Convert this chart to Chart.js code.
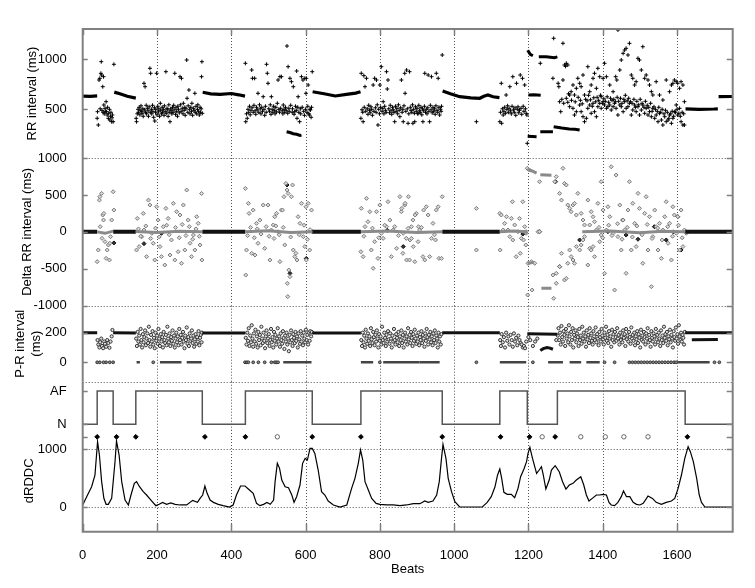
<!DOCTYPE html>
<html>
<head>
<meta charset="utf-8">
<script src="https://cdn.jsdelivr.net/npm/chart.js@4.4.1/dist/chart.umd.min.js"></script>
<style>
  html, body { margin: 0; padding: 0; background: #fff; }
  #wrap { position: relative; width: 755px; height: 588px; }
  #wrap canvas { position: absolute; left: 0; top: 0; }
</style>
</head>
<body>
<div id="wrap">
  <canvas id="cRR" width="755" height="588"></canvas>
  <canvas id="cDelta" width="755" height="588"></canvas>
  <canvas id="cPR" width="755" height="588"></canvas>
  <canvas id="cAF" width="755" height="588"></canvas>
  <canvas id="cDRDDC" width="755" height="588"></canvas>
</div>
<script>
// ===== DATA =====
const xTickVals = [0, 200, 400, 600, 800, 1000, 1200, 1400, 1600];

// --- RR interval (ms) ---
// dense runs of regular beats (drawn as thick strips)
const rrRhythm = [
  [[0, 632], [20, 630], [39, 634]],
  [[85, 672], [100, 655], [120, 630], [143, 612]],
  [[323, 670], [345, 655], [370, 650], [400, 658], [420, 645], [437, 632]],
  [[619, 676], [650, 655], [680, 633], [710, 650], [735, 662], [748, 676]],
  [[969, 683], [990, 655], [1015, 626], [1045, 615], [1069, 610], [1080, 630], [1091, 643], [1105, 625], [1122, 617]],
  [[1623, 505], [1660, 500], [1700, 503], [1710, 505]],
  [[1712, 626], [1748, 628]]
];
const rrRuns = [
  [[549, 276], [558, 268], [567, 256], [576, 250], [585, 238], [589, 242]],
  [[1198, 1090], [1205, 1050], [1212, 1036]],
  [[1228, 1026], [1248, 1026], [1270, 1016], [1278, 1024]],
  [[1198, 230], [1222, 226]],
  [[1232, 276], [1266, 276]],
  [[1268, 326], [1290, 312], [1310, 304], [1325, 300], [1338, 293]],
  [[1200, 643], [1215, 645], [1233, 640]]
];
const rrAF1 = [[39,410],[40,476],[42,343],[44,793],[46,810],[47,505],[49,860],[50,976],[51,843],[52,490],[54,726],[55,470],[56,826],[57,543],[58,455],[60,510],[61,480],[63,576],[64,476],[66,443],[67,520],[69,410],[70,460],[72,500],[73,393],[75,430],[76,470],[78,376],[79,415],[80,443],[82,376],[84,950]];
const rrAF2 = [[144,410],[145,376],[147,455],[149,500],[150,470],[152,520],[154,445],[155,490],[157,535],[159,480],[160,460],[162,505],[163,430],[165,760],[166,495],[168,726],[169,470],[171,540],[172,455],[174,510],[176,485],[177,430],[179,525],[181,910],[182,470],[183,860],[185,500],[186,455],[188,540],[189,480],[191,420],[193,515],[194,383],[196,470],[197,500],[199,860],[200,445],[202,530],[204,475],[205,505],[207,430],[209,560],[210,490],[212,455],[214,520],[215,470],[217,500],[219,440],[220,535],[222,480],[224,876],[225,460],[227,510],[229,495],[230,430],[232,545],[233,470],[235,376],[237,505],[238,485],[240,455],[242,520],[243,470],[245,540],[246,495],[248,860],[250,450],[251,515],[253,480],[255,430],[256,530],[258,500],[260,465],[262,826],[263,545],[265,480],[266,810],[268,510],[270,455],[271,560],[273,490],[275,520],[276,440],[278,505],[280,993],[281,610],[283,470],[284,535],[286,693],[288,500],[289,455],[291,520],[293,480],[294,560],[296,440],[298,510],[300,490],[302,660],[303,470],[305,530],[307,455],[309,500],[310,545],[312,480],[314,443],[316,520],[317,470],[319,505],[320,826],[321,976],[322,460]];
const rrAF3 = [[438,960],[439,376],[441,455],[443,410],[445,500],[447,470],[449,530],[451,445],[453,490],[455,893],[456,515],[457,810],[459,470],[461,540],[463,810],[464,485],[466,450],[468,520],[470,495],[472,660],[474,470],[476,545],[478,505],[480,455],[482,520],[484,480],[486,626],[488,500],[490,440],[492,530],[494,470],[495,950],[497,860],[499,760],[501,505],[503,480],[505,545],[507,450],[508,626],[510,500],[512,470],[514,530],[516,490],[518,455],[520,520],[522,475],[524,560],[526,793],[528,500],[530,470],[531,826],[533,510],[535,826],[537,485],[539,455],[540,543],[542,500],[544,470],[546,520],[548,490],[550,1133],[552,460],[553,926],[555,510],[556,480],[558,810],[560,540],[562,776],[564,470],[565,505],[567,726],[569,450],[571,476],[573,530],[575,490],[576,883],[577,410],[579,520],[580,626],[582,470],[584,376],[586,505],[587,455],[589,826],[591,520],[593,793],[595,480],[597,440],[598,810],[600,500],[601,660],[602,810],[604,470],[606,530],[607,743],[609,455],[610,443],[612,500],[613,493],[615,420],[616,520],[618,876]];
const rrAF4 = [[749,410],[750,860],[752,495],[754,470],[755,376],[757,836],[758,520],[760,726],[762,480],[764,810],[766,505],[768,450],[770,540],[772,490],[774,465],[776,525],[778,500],[780,440],[782,743],[784,480],[786,810],[788,515],[790,470],[791,793],[793,545],[795,343],[797,500],[799,455],[800,743],[802,520],[804,926],[806,480],[808,510],[809,576],[811,455],[813,530],[815,490],[817,470],[818,876],[820,703],[822,793],[824,505],[826,465],[828,540],[830,485],[832,450],[834,520],[836,495],[838,470],[840,376],[842,530],[844,480],[846,510],[848,455],[850,545],[852,490],[854,426],[856,515],[858,793],[860,470],[862,500],[863,376],[865,535],[867,860],[868,660],[870,480],[872,893],[874,505],[876,360],[878,455],[880,876],[882,520],[884,490],[886,470],[888,545],[889,360],[891,500],[893,460],[894,376],[896,525],[898,480],[900,510],[902,455],[903,460],[905,540],[907,490],[909,470],[911,520],[913,445],[915,505],[916,376],[918,485],[920,530],[921,860],[923,470],[925,500],[927,455],[929,515],[930,843],[932,480],[934,376],[936,540],[938,495],[939,826],[941,465],[943,520],[945,480],[947,505],[949,450],[951,535],[952,860],[954,490],[956,470],[957,810],[959,520],[961,443],[963,500],[965,480],[966,530],[968,1043]];
const rrAF5 = [[1060,376],[1123,376],[1125,470],[1127,760],[1128,360],[1130,505],[1132,443],[1134,480],[1136,520],[1138,460],[1140,643],[1142,500],[1144,535],[1146,470],[1148,510],[1150,726],[1152,485],[1154,455],[1156,530],[1158,826],[1160,495],[1162,470],[1164,515],[1166,440],[1168,760],[1170,500],[1172,525],[1174,465],[1176,490],[1178,843],[1180,510],[1182,450],[1184,810],[1186,530],[1188,480],[1190,743],[1192,505],[1194,460],[1196,443]];
const rrFlutter = [[1197,160],[1232,960],[1268,1210],[1293,1160],[1297,943],[1300,930],[1302,960],[1306,943]];
const rrAF6 = [[1266,810],[1280,760],[1282,726],[1284,576],[1287,476],[1293,793],[1311,643],[1315,676],[1320,743],[1324,643],[1329,710],[1333,810],[1338,760],[1342,726],[1347,843],[1351,643],[1360,926],[1365,676],[1369,743],[1374,810],[1378,860],[1383,710],[1387,910],[1392,826],[1396,626],[1401,810],[1405,960],[1410,826],[1419,743],[1428,676],[1435,826],[1438,793],[1441,1293],[1446,893],[1450,993],[1455,1060],[1459,1093],[1463,1110],[1468,1043],[1472,1160],[1477,843],[1481,810],[1486,743],[1490,776],[1495,1010],[1499,993],[1504,893],[1508,1126],[1513,810],[1517,843],[1522,793],[1526,743],[1531,676],[1535,643],[1544,776],[1553,643],[1562,593],[1571,793],[1580,676],[1585,743],[1589,760],[1593,793],[1598,776],[1602,760],[1607,710],[1611,776],[1616,743],[1620,576],
  [1302,610],[1306,570],[1311,526],[1320,510],[1324,443],[1329,476],[1338,543],[1342,476],[1347,426],[1351,376],[1356,410],[1360,510],[1365,543],[1369,460],[1374,560],[1378,476],[1383,426],[1387,526],[1392,560],[1396,510],[1401,576],[1405,543],[1410,510],[1414,526],[1419,543],[1423,493],[1428,526],[1432,560],[1436,510],[1441,443],[1446,543],[1450,526],[1455,476],[1459,576],[1463,510],[1468,526],[1472,560],[1477,443],[1481,493],[1486,543],[1490,476],[1495,526],[1499,443],[1504,493],[1508,543],[1513,460],[1517,510],[1522,443],[1526,476],[1531,426],[1535,510],[1540,410],[1544,443],[1549,376],[1553,460],[1558,393],[1562,343],[1567,426],[1571,376],[1576,393],[1580,443],[1585,360],[1589,410],[1593,476],[1598,543],[1602,443],[1607,510],[1611,376],[1616,343],[1620,343],
  [1290,600],[1295,560],[1308,655],[1316,590],[1326,575],[1334,620],[1340,590],[1345,555],[1354,600],[1358,585],[1362,640],[1367,595],[1372,530],[1376,615],[1381,575],[1385,620],[1389,590],[1394,640],[1399,560],[1403,605],[1407,580],[1412,625],[1416,570],[1421,610],[1425,590],[1430,600],[1434,575],[1439,620],[1443,580],[1448,610],[1452,560],[1457,600],[1461,640],[1466,585],[1470,610],[1475,575],[1479,560],[1484,600],[1488,520],[1492,580],[1497,545],[1501,600],[1506,560],[1511,520],[1515,580],[1520,540],[1524,520],[1529,560],[1533,480],[1538,525],[1542,500],[1547,480],[1551,520],[1556,470],[1560,500],[1565,455],[1569,490],[1574,470],[1578,410],[1583,455],[1587,480],[1591,430],[1596,470],[1600,500],[1605,460],[1609,430],[1614,470],[1618,455]];

// --- Delta RR interval (ms) ---
const dRhythm = [
  [[0, 0], [39, 0]], [[82, 0], [143, 0]], [[322, 0], [438, 0]],
  [[618, 0], [749, 0]], [[968, 0], [1123, 0]], [[1622, 0], [1750, 0]]
];
const dRuns = [
  [[39, 0], [60, -20], [82, 10]],
  [[143, 5], [200, -10], [260, 8], [322, 0]],
  [[438, 0], [500, 15], [560, -10], [618, 0]],
  [[749, 0], [820, 12], [900, -8], [968, 0]],
  [[1123, 0], [1160, 10], [1197, 0]],
  [[1345, 0], [1420, 10], [1500, -12], [1560, 8], [1622, 0]],
  [[1197, 845], [1210, 824], [1222, 795]],
  [[1232, 772], [1262, 765]],
  [[1235, -765], [1262, -765]],
  [[1198, -430], [1215, -410]]
];
const dAF1 = [[39,-404],[42,-246],[45,430],[46,476],[47,70],[51,520],[52,-88],[54,228],[56,160],[57,250],[60,-133],[63,-359],[66,-246],[69,-178],[72,-381],[73,-155],[75,-65],[78,160],[82,543],[84,295]];
const dAF2 = [[145,-246],[147,182],[152,-200],[159,-65],[163,250],[165,25],[172,-336],[177,430],[181,363],[186,-20],[190,-155],[194,-381],[199,340],[203,160],[208,-200],[212,-336],[217,70],[221,-449],[224,318],[230,182],[235,-314],[239,-110],[244,386],[248,-381],[253,273],[257,-269],[262,228],[266,-426],[271,363],[275,-246],[280,566],[284,160],[289,-155],[293,-336],[298,-43],[302,-246],[307,205],[311,115],[316,-178],[320,520],[321,-381],
  [150,40],[156,-60],[170,80],[183,-90],[196,50],[206,-70],[226,90],[233,-40],[250,60],[260,-80],[268,100],[278,-50],[287,70],[296,-100],[305,40],[314,-60]];
const dAF3 = [[438,588],[439,-585],[441,-246],[446,386],[448,250],[455,-291],[459,295],[464,-314],[468,115],[472,-155],[477,160],[486,363],[490,-223],[499,363],[504,-381],[508,25],[513,93],[517,205],[522,250],[526,2],[531,-404],[535,295],[538,295],[542,476],[544,-178],[547,656],[550,566],[553,520],[555,-517],[558,-607],[551,-697],[552,-877],[562,476],[565,634],[567,-246],[571,-336],[574,-291],[577,-381],[580,205],[585,115],[589,386],[594,-65],[598,-200],[601,340],[602,-381],[607,386],[611,-246],[616,295],[618,2],
  [444,-50],[452,60],[462,-80],[470,40],[480,-30],[494,70],[502,-60],[515,-90],[520,80],[529,-40],[540,60],[560,-70],[583,-40],[596,90],[605,-100],[612,30]];
const dAF4 = [[749,-269],[750,318],[755,-336],[760,70],[764,453],[768,137],[773,273],[777,-246],[782,-494],[786,-133],[791,273],[795,-359],[800,363],[804,-20],[809,-88],[818,70],[822,408],[827,160],[831,-336],[836,25],[840,70],[845,-223],[854,476],[858,273],[863,-20],[867,363],[872,-381],[876,47],[881,-110],[889,160],[894,-404],[898,250],[903,-133],[907,25],[859,318],[862,-291],[868,386],[871,-88],[877,476],[880,-381],[885,70],[890,-200],[895,228],[904,70],[916,-336],[918,295],[921,-381],[925,340],[930,228],[934,-336],[939,-88],[943,115],[950,-110],[952,295],[957,340],[959,-359],[966,-359],[968,476],
  [757,-60],[780,50],[797,-80],[813,90],[850,-50],[885,-90],[912,60],[947,-40]];
const dAF5 = [[1060,318],[1060,-246],[1123,250],[1124,-246],[1127,228],[1132,25],[1136,115],[1141,205],[1145,25],[1150,-65],[1154,182],[1157,408],[1158,-110],[1163,93],[1167,-336],[1172,2],[1176,182],[1178,-291],[1181,-88],[1185,408],[1187,-110],[1190,70],[1193,-178],[1194,-20]];
const dFlutter = [[1197,860],[1203,837],[1230,679],[1198,-855],[1210,-788],[1268,-900],[1275,-697],[1199,-426],[1208,-404],[1217,-426],[1226,2],[1230,2],[1194,2],
  [1271,679],[1275,747],[1284,521],[1289,430],[1293,860],[1297,656],[1302,634],[1306,363],[1311,318],[1315,273],[1320,363],[1324,386],[1329,228],[1333,521],[1342,250],[1347,160],[1351,93],[1360,430],[1365,93],[1369,273],[1374,205],[1378,137],
  [1266,-584],[1275,-562],[1284,-471],[1289,-291],[1297,-652],[1302,-630],[1306,-426],[1311,-246],[1315,-336],[1320,-381],[1324,-426],[1329,-200],[1338,-246],[1342,-178],[1347,-110],[1351,-65],[1360,-449],[1365,-223],[1369,-246],[1374,-200],[1378,-336]];
const dAF6 = [[1383,25],[1387,386],[1392,-133],[1396,679],[1396,-43],[1401,295],[1405,-562],[1410,25],[1414,340],[1419,205],[1423,882],[1428,-20],[1432,-788],[1436,769],[1441,-65],[1446,363],[1450,-246],[1455,160],[1459,25],[1463,-562],[1468,295],[1472,679],[1477,-246],[1481,386],[1486,115],[1490,-200],[1495,521],[1499,318],[1504,-20],[1508,-426],[1513,250],[1517,476],[1522,-246],[1526,205],[1531,-742],[1535,-65],[1540,295],[1544,70],[1549,-246],[1553,115],[1558,-359],[1562,25],[1567,205],[1571,408],[1576,-155],[1580,115],[1585,-381],[1589,340],[1593,228],[1598,-20],[1602,205],[1607,-246],[1611,295],[1616,-200],[1620,25],[1625,-20],
  [1390,60],[1400,-80],[1416,90],[1425,-50],[1440,110],[1452,-100],[1466,60],[1480,-70],[1492,80],[1506,-40],[1520,100],[1533,-90],[1548,50],[1560,-110],[1575,70],[1588,-60],[1604,90],[1614,-80]];
const dDark = [[84,-150],[165,-160],[212,-20],[550,634],[558,-562],[602,-360],[820,20],[863,-200],[1185,-30],[1230,2],[1273,679],[1284,-471],[1338,-110],[1414,2],[1454,160],[1463,-43],[1495,-100],[1539,70],[1571,-110],[1590,0],[1602,205],[1611,-246]];

// --- P-R interval (ms) ---
const prRhythm = [
  [[0, 200], [39, 200]], [[82, 200], [143, 198]], [[322, 198], [438, 197]],
  [[618, 198], [749, 198]], [[968, 200], [1123, 200]], [[1197, 192], [1278, 190]],
  [[1622, 200], [1750, 200]], [[1640, 152], [1710, 154]],
  [[1232, 80], [1240, 92], [1250, 100], [1258, 96], [1266, 88]]
];
const prAF1 = [[40,150],[42,120],[45,100],[47,135],[50,160],[52,110],[55,95],[58,140],[60,125],[63,105],[66,150],[69,130],[72,98],[75,140],[78,175],[80,218]];
const prAF2 = [[144,160],[146,110],[148,205],[150,140],[152,180],[154,120],[156,225],[158,150],[160,100],[162,190],[164,135],[166,170],[168,215],[170,115],[172,160],[174,195],[176,130],[178,240],[180,150],[182,105],[184,185],[186,140],[188,210],[190,120],[192,165],[194,95],[196,200],[198,145],[200,180],[202,125],[204,225],[206,160],[208,110],[210,190],[212,140],[214,170],[216,100],[218,205],[220,150],[222,130],[224,185],[226,115],[228,240],[230,160],[232,135],[234,195],[236,110],[238,170],[240,145],[242,215],[244,125],[246,180],[248,100],[250,160],[252,200],[254,135],[256,175],[258,115],[260,225],[262,150],[264,185],[266,120],[268,165],[270,205],[272,140],[274,95],[276,180],[278,150],[280,235],[282,125],[284,170],[286,110],[288,195],[290,145],[292,160],[294,215],[296,130],[298,180],[300,105],[302,155],[304,190],[306,125],[308,170],[310,140],[312,210],[314,115],[316,165],[318,185],[320,135],[321,200]];
const prAF3 = [[439,165],[441,120],[443,200],[445,145],[447,230],[449,110],[451,180],[453,135],[455,250],[457,160],[459,105],[461,195],[463,140],[465,220],[467,125],[469,175],[471,100],[473,205],[475,150],[477,185],[479,115],[481,240],[483,160],[485,130],[487,200],[489,145],[491,95],[493,175],[495,215],[497,130],[499,160],[501,190],[503,110],[505,150],[507,225],[509,135],[511,170],[513,100],[515,205],[517,145],[519,185],[521,120],[523,160],[525,230],[527,140],[529,175],[531,105],[533,195],[535,150],[537,125],[539,210],[541,165],[543,90],[545,180],[547,140],[549,200],[551,120],[553,160],[555,75],[557,185],[559,135],[561,215],[563,150],[565,110],[567,190],[569,165],[571,130],[573,205],[575,145],[577,175],[579,100],[581,195],[583,155],[585,125],[587,210],[589,140],[591,180],[593,115],[595,200],[597,160],[599,135],[601,220],[603,150],[605,185],[607,120],[609,200],[611,145],[613,210],[615,175],[617,205]];
const prAF4 = [[750,150],[752,110],[754,200],[756,135],[758,180],[760,100],[762,220],[764,160],[766,125],[768,195],[770,145],[772,175],[774,110],[776,230],[778,155],[780,130],[782,205],[784,170],[786,115],[788,185],[790,140],[792,215],[794,160],[796,100],[798,190],[800,145],[802,175],[804,120],[806,240],[808,150],[810,130],[812,200],[814,165],[816,110],[818,185],[820,140],[822,210],[824,155],[826,125],[828,195],[830,160],[832,100],[834,180],[836,140],[838,225],[840,150],[842,120],[844,190],[846,165],[848,135],[850,205],[852,110],[854,175],[856,150],[858,215],[860,130],[862,185],[864,100],[866,160],[868,200],[870,140],[872,175],[874,120],[876,230],[878,155],[880,185],[882,130],[884,205],[886,165],[888,110],[890,190],[892,145],[894,220],[896,160],[898,125],[900,180],[902,140],[904,200],[906,115],[908,170],[910,150],[912,210],[914,130],[916,185],[918,160],[920,105],[922,195],[924,145],[926,225],[928,170],[930,120],[932,185],[934,155],[936,205],[938,135],[940,175],[942,115],[944,195],[946,150],[948,215],[950,130],[952,180],[954,160],[956,100],[958,200],[960,140],[962,175],[964,120],[966,190]];
const prAF5 = [[1124,150],[1126,110],[1128,190],[1131,135],[1134,170],[1137,100],[1140,200],[1143,145],[1146,175],[1149,120],[1152,185],[1155,150],[1158,105],[1161,195],[1164,140],[1167,165],[1170,115],[1173,180],[1176,150],[1179,130],[1182,120],[1185,100],[1188,110],[1191,95],[1194,140],[1200,170],[1205,150],[1212,110],[1218,140],[1224,160],[1275,150]];
const prAF6 = [[1279,180],[1281,230],[1283,150],[1285,200],[1287,120],[1289,245],[1291,170],[1293,140],[1295,210],[1297,185],[1299,110],[1301,225],[1303,160],[1305,195],[1307,135],[1309,250],[1311,175],[1313,120],[1315,205],[1317,150],[1319,230],[1321,100],[1323,185],[1325,160],[1327,215],[1329,135],[1331,195],[1333,170],[1335,110],[1337,225],[1339,150],[1341,180],[1343,125],[1345,240],[1347,160],[1349,200],[1351,140],[1353,175],[1355,105],[1357,215],[1359,155],[1361,185],[1363,130],[1365,230],[1367,165],[1369,195],[1371,145],[1373,120],[1375,210],[1377,175],[1379,150],[1381,235],[1383,135],[1385,190],[1387,160],[1389,115],[1391,205],[1393,170],[1395,140],[1397,225],[1399,180],[1401,155],[1403,120],[1405,200],[1407,165],[1409,240],[1411,145],[1413,185],[1415,130],[1417,210],[1419,160],[1421,175],[1423,105],[1425,220],[1427,150],[1429,190],[1431,135],[1433,205],[1435,170],[1437,145],[1439,230],[1441,160],[1443,185],[1445,120],[1447,200],[1449,150],[1451,175],[1453,135],[1455,215],[1457,165],[1459,190],[1461,110],[1463,225],[1465,155],[1467,180],[1469,140],[1471,205],[1473,170],[1475,125],[1477,235],[1479,160],[1481,185],[1483,145],[1485,200],[1487,115],[1489,175],[1491,155],[1493,210],[1495,130],[1497,190],[1499,165],[1501,100],[1503,220],[1505,150],[1507,180],[1509,140],[1511,205],[1513,170],[1515,120],[1517,195],[1519,160],[1521,230],[1523,135],[1525,185],[1527,150],[1529,105],[1531,210],[1533,165],[1535,140],[1537,195],[1539,175],[1541,120],[1543,225],[1545,155],[1547,185],[1549,135],[1551,200],[1553,160],[1555,110],[1557,215],[1559,150],[1561,180],[1563,130],[1565,240],[1567,165],[1569,190],[1571,145],[1573,205],[1575,115],[1577,175],[1579,155],[1581,220],[1583,135],[1585,185],[1587,160],[1589,100],[1591,210],[1593,170],[1595,145],[1597,235],[1599,160],[1601,190],[1603,125],[1605,250],[1607,175],[1609,150],[1611,200],[1613,140],[1615,185],[1617,165],[1619,120],[1621,205]];
// beats whose P-R reads as 0 (no P wave found)
const prZeroRuns = [[145, 154], [208, 266], [280, 320], [540, 616], [749, 782], [809, 907], [907, 961], [1123, 1194], [1253, 1293], [1311, 1342], [1356, 1392], [1602, 1688]];
const prZeroBeats = [39, 46, 56, 63, 73, 82, 190, 437, 442, 446, 459, 473, 490, 508, 517, 521, 526, 800, 1060, 1212, 1405, 1432, 1472, 1480, 1488, 1496, 1504, 1512, 1520, 1528, 1536, 1544, 1552, 1560, 1568, 1576, 1584, 1592, 1598, 1701, 1714];

// --- rhythm annotation (0 = N, 1 = AF) ---
const afBeats  = [0, 39, 82, 143, 322, 438, 618, 749, 968, 1123, 1197, 1278, 1622, 1750];
const afStates = [0, 1,  0,  1,   0,   1,   0,   1,   0,   1,    0,    1,    0,    0];

// --- dRDDC ---
const drddc = [[0,35],[13,207],[24,350],[33,550],[40,1126],[45,897],[51,437],[57,150],[63,46],[69,46],[78,150],[87,780],[91,1138],[98,897],[105,437],[114,120],[123,35],[130,207],[139,408],[145,437],[153,350],[163,264],[172,207],[186,103],[197,23],[206,46],[215,80],[226,46],[237,69],[249,46],[262,35],[280,35],[296,115],[309,80],[316,150],[323,207],[329,362],[335,236],[343,120],[352,80],[365,46],[378,23],[395,0],[405,35],[414,207],[425,362],[437,362],[449,293],[459,236],[468,63],[477,23],[487,46],[496,80],[505,46],[514,120],[518,437],[524,753],[530,667],[536,465],[545,350],[554,333],[563,207],[569,80],[576,178],[585,379],[592,753],[599,840],[605,810],[612,1011],[618,1011],[625,925],[634,638],[643,264],[652,207],[661,103],[675,35],[693,0],[711,35],[724,322],[733,494],[742,753],[748,983],[754,810],[760,437],[769,293],[778,149],[790,63],[800,46],[818,35],[836,35],[854,23],[872,35],[890,57],[908,57],[921,103],[930,80],[943,103],[953,207],[960,437],[966,839],[970,1080],[978,839],[984,494],[993,264],[1002,92],[1015,0],[1050,0],[1076,0],[1089,80],[1100,178],[1110,350],[1117,552],[1123,655],[1128,494],[1134,253],[1143,218],[1154,218],[1163,161],[1172,322],[1179,523],[1188,655],[1195,782],[1199,925],[1204,1029],[1211,839],[1217,695],[1222,580],[1229,638],[1235,695],[1240,552],[1247,310],[1256,465],[1262,638],[1272,713],[1283,609],[1292,437],[1301,310],[1310,379],[1320,408],[1329,465],[1341,523],[1349,379],[1356,207],[1363,103],[1372,149],[1383,207],[1392,207],[1401,218],[1410,207],[1417,80],[1423,35],[1432,23],[1441,80],[1450,178],[1456,276],[1464,178],[1473,178],[1482,80],[1491,46],[1500,35],[1509,63],[1518,149],[1522,190],[1534,149],[1544,80],[1558,46],[1571,80],[1585,103],[1594,149],[1603,322],[1612,552],[1621,839],[1630,1040],[1636,954],[1644,782],[1653,494],[1660,207],[1666,80],[1675,0],[1750,0]];
const detectBeats = [39, 91, 143, 329, 438, 618, 749, 968, 1125, 1203, 1272, 1628];
const rejectBeats = [524, 1237, 1341, 1407, 1457, 1522];
const markerLevel = 1210;

// ===== HELPERS =====
Chart.defaults.font.family = "'Liberation Sans', Arial, sans-serif";
Chart.defaults.font.size = 13;
Chart.defaults.color = '#000';

const AXIS_GREY = '#808080';
const GRID_GREY = '#555';

function band(data, color, width) {
    return { data, showLine: true, borderColor: color, borderWidth: width, pointRadius: 0, fill: false };
}

function dots(data, style, radius, border, bg, bw) {
    return { data, showLine: false, pointStyle: style, pointRadius: radius,
             borderColor: border, backgroundColor: bg, borderWidth: bw };
}

// dotted grid, inward tick marks and the grey frame
const panelDeco = {
    id: 'panelDeco',
    beforeDatasetsDraw(chart, args, o) {
        const { ctx, chartArea: a, scales: { x, y } } = chart;
        ctx.save();
        ctx.strokeStyle = GRID_GREY;
        ctx.lineWidth = 1;
        ctx.setLineDash([1, 2]);
        ctx.beginPath();
        xTickVals.filter(v => v > 0).forEach(v => {
            const px = Math.round(x.getPixelForValue(v)) + 0.5;
            ctx.moveTo(px, a.top);
            ctx.lineTo(px, a.bottom);
        });
        (o.gridY || []).forEach(v => {
            const py = Math.round(y.getPixelForValue(v)) + 0.5;
            ctx.moveTo(a.left, py);
            ctx.lineTo(a.right, py);
        });
        ctx.stroke();
        ctx.restore();
    },
    afterDraw(chart, args, o) {
        const { ctx, chartArea: a, scales: { x, y } } = chart;
        ctx.save();
        ctx.strokeStyle = AXIS_GREY;
        ctx.lineWidth = 1.5;
        ctx.beginPath();
        (o.marks || []).forEach(v => {
            const py = Math.round(y.getPixelForValue(v)) + 0.5;
            ctx.moveTo(a.left, py); ctx.lineTo(a.left + 5, py);
            ctx.moveTo(a.right - 6, py); ctx.lineTo(a.right, py);
        });
        xTickVals.forEach(v => {
            const px = Math.round(x.getPixelForValue(v)) + 0.5;
            if (o.topTicks) { ctx.moveTo(px, a.top); ctx.lineTo(px, a.top + 6); }
            if (o.bottomTicks) { ctx.moveTo(px, a.bottom); ctx.lineTo(px, a.bottom - 8); }
        });
        ctx.stroke();
        ctx.lineWidth = 2;
        ctx.beginPath();
        ctx.moveTo(a.left, a.top); ctx.lineTo(a.left, a.bottom);
        ctx.moveTo(a.right, a.top); ctx.lineTo(a.right, a.bottom);
        if (o.topTicks) { ctx.moveTo(a.left - 1, a.top); ctx.lineTo(a.right + 1, a.top); }
        if (o.bottomTicks) { ctx.moveTo(a.left - 1, a.bottom); ctx.lineTo(a.right + 1, a.bottom); }
        ctx.stroke();
        ctx.restore();
    }
};

function makePanel(id, p) {
    const isBottom = !!p.bottomAxis;
    const xScale = isBottom ? {
        type: 'linear', min: 0, max: 1750,
        grid: { display: false }, border: { display: false },
        afterBuildTicks: s => { s.ticks = xTickVals.map(v => ({ value: v })); },
        ticks: { padding: 8, color: '#000', autoSkip: false, maxRotation: 0, callback: v => String(v) },
        afterFit: s => { s.height = 56.3; },
        title: { display: true, text: 'Beats', color: '#000', padding: { top: 0, bottom: 11 } }
    } : { type: 'linear', min: 0, max: 1750, display: false };

    return new Chart(document.getElementById(id), {
        type: 'scatter',
        data: { datasets: p.datasets },
        options: {
            responsive: false,
            animation: false,
            devicePixelRatio: 1,
            events: [],
            layout: { padding: { top: p.top, bottom: isBottom ? 0 : 588 - p.bottom, left: 0, right: 22.3 } },
            plugins: {
                legend: { display: false },
                tooltip: { enabled: false },
                panelDeco: { gridY: p.gridY, marks: p.tickVals, topTicks: !!p.topTicks, bottomTicks: isBottom }
            },
            scales: {
                x: xScale,
                y: {
                    min: p.min, max: p.max,
                    grid: { display: false }, border: { display: false },
                    afterBuildTicks: s => { s.ticks = p.tickVals.map(v => ({ value: v })); },
                    ticks: { padding: 8, color: '#000', autoSkip: false,
                             callback: v => (p.labels[v] !== undefined ? p.labels[v] : '') },
                    afterFit: s => { s.width = 82.7; },
                    title: { display: !!p.title, text: p.title, color: '#000',
                             padding: { top: p.titlePad || 0, bottom: 0 } }
                }
            }
        },
        plugins: [panelDeco]
    });
}

// ===== PANELS =====
makePanel('cRR', {
    top: 29, bottom: 158, min: 13, max: 1303, topTicks: true,
    tickVals: [500, 1000], labels: { 500: '500', 1000: '1000' }, gridY: [],
    title: 'RR interval (ms)', titlePad: 25,
    datasets: [
        ...rrRhythm.map(s => band(s, '#000', 3.2)),
        ...rrRuns.map(s => band(s, '#000', 3)),
        dots([...rrAF1, ...rrAF2, ...rrAF3, ...rrAF4, ...rrAF5, ...rrFlutter, ...rrAF6], 'cross', 2, '#000', '#000', 1)
    ]
});

makePanel('cDelta', {
    top: 158, bottom: 305.7, min: -1000, max: 1000,
    tickVals: [-1000, -500, 0, 500, 1000],
    labels: { '-1000': '-1000', '-500': '-500', 0: '0', 500: '500', 1000: '1000' },
    gridY: [-1000, 1000],
    title: 'Delta RR interval (ms)', titlePad: 20,
    datasets: [
        ...dRuns.map(s => band(s, '#8a8a8a', 3)),
        ...dRhythm.map(s => band(s, '#111', 4)),
        dots([...dAF1, ...dAF2, ...dAF3, ...dAF4, ...dAF5, ...dFlutter, ...dAF6], 'rectRot', 2, '#7a7a7a', '#d8d8d8', 1),
        dots(dDark, 'rectRot', 2, '#111', '#333', 1)
    ]
});

makePanel('cPR', {
    top: 305.7, bottom: 381.7, min: -131, max: 382,
    tickVals: [0, 200], labels: { 0: '0', 200: '200' }, gridY: [],
    title: ['P-R interval', '(ms)'], titlePad: 13,
    datasets: [
        ...prRhythm.map(s => band(s, '#111', 3)),
        ...prZeroRuns.map(r => band([[r[0], 0], [r[1], 0]], '#444', 2.5)),
        dots(prZeroBeats.map(b => [b, 0]), 'circle', 1.4, '#333', '#888', 1),
        dots([...prAF1, ...prAF2, ...prAF3, ...prAF4, ...prAF5, ...prAF6], 'circle', 1.6, '#333', '#e0e0e0', 1)
    ]
});

makePanel('cAF', {
    top: 381.7, bottom: 430, min: -0.171, max: 1.279,
    tickVals: [0, 1], labels: { 0: 'N', 1: 'AF' }, gridY: [1.279],
    title: '',
    datasets: [
        Object.assign(band(afBeats.map((b, i) => [b, afStates[i]]), '#555', 1.5), { stepped: true })
    ]
});

makePanel('cDRDDC', {
    top: 430, bottom: 531.7, min: -426, max: 1328, bottomAxis: true,
    tickVals: [0, 1000, markerLevel], labels: { 0: '0', 1000: '1000' }, gridY: [0, 1000],
    title: 'dRDDC', titlePad: 22,
    datasets: [
        band(drddc, '#000', 1.2),
        dots(detectBeats.map(b => [b, markerLevel]), 'rectRot', 2.4, '#000', '#000', 1),
        dots(rejectBeats.map(b => [b, markerLevel]), 'circle', 2.2, '#666', '#fff', 1)
    ]
});
</script>
</body>
</html>
